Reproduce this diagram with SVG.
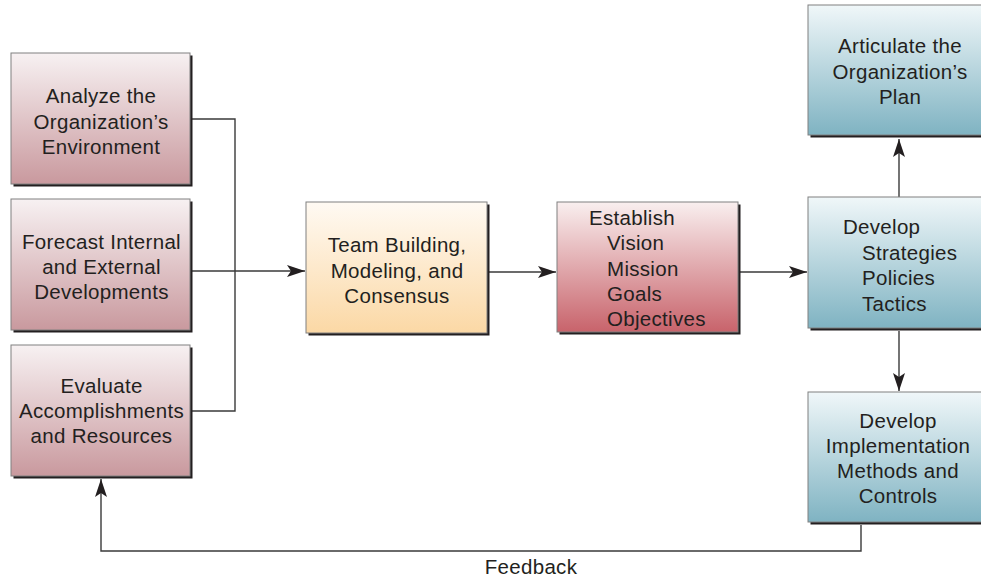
<svg xmlns="http://www.w3.org/2000/svg" width="981" height="580" viewBox="0 0 981 580">
<defs>
<linearGradient id="gPink" x1="0" y1="0" x2="0" y2="1"><stop offset="0" stop-color="#f7f1f2"/><stop offset="1" stop-color="#c9999e"/></linearGradient>
<linearGradient id="gTan" x1="0" y1="0" x2="0" y2="1"><stop offset="0" stop-color="#fffaf3"/><stop offset="1" stop-color="#fbd8a5"/></linearGradient>
<linearGradient id="gRed" x1="0" y1="0" x2="0" y2="1"><stop offset="0" stop-color="#f9efef"/><stop offset="1" stop-color="#c8636b"/></linearGradient>
<linearGradient id="gBlue" x1="0" y1="0" x2="0" y2="1"><stop offset="0" stop-color="#f0f7f9"/><stop offset="1" stop-color="#7fb3c2"/></linearGradient>
<marker id="arr" markerUnits="userSpaceOnUse" markerWidth="18" markerHeight="12" refX="18" refY="6" orient="auto" viewBox="0 0 18 12">
<path d="M0,0 L18,6 L0,12 L4,6 Z" fill="#231f20"/>
</marker>
</defs>
<style>
.sh{fill:#231f20}
.bx{stroke:#808080;stroke-width:1}
.t{font-family:"Liberation Sans",Arial,Helvetica,sans-serif;font-size:20.5px;fill:#231f20;letter-spacing:0.3px}
.c{text-anchor:middle}
.ln{fill:none;stroke:#3a3a3a;stroke-width:1.4}
</style>
<g id="connectors">
<path class="ln" d="M191 119 H235 V411 H191"/>
<path class="ln" d="M192 271 H305" marker-end="url(#arr)"/>
<path class="ln" d="M489 272 H556" marker-end="url(#arr)"/>
<path class="ln" d="M740 272 H807" marker-end="url(#arr)"/>
<path class="ln" d="M899 197 V139" marker-end="url(#arr)"/>
<path class="ln" d="M899 331 V391" marker-end="url(#arr)"/>
<path class="ln" d="M861 525 V551 H101 V479" marker-end="url(#arr)"/>
<text class="t c" x="531" y="574">Feedback</text>
</g>
<g id="analyze">
<rect class="sh" x="13.5" y="55.5" width="179" height="131"/>
<rect class="bx" x="11" y="53" width="179" height="131" fill="url(#gPink)"/>
<text class="t c" x="101" y="103">Analyze the</text>
<text class="t c" x="101" y="128.5">Organization’s</text>
<text class="t c" x="101" y="153.5">Environment</text>
</g>
<g id="forecast">
<rect class="sh" x="13.5" y="201.5" width="179" height="131"/>
<rect class="bx" x="11" y="199" width="179" height="131" fill="url(#gPink)"/>
<text class="t c" x="101.5" y="248.5">Forecast Internal</text>
<text class="t c" x="101.5" y="274">and External</text>
<text class="t c" x="101.5" y="299">Developments</text>
</g>
<g id="evaluate">
<rect class="sh" x="13.5" y="347.5" width="179" height="131"/>
<rect class="bx" x="11" y="345" width="179" height="131" fill="url(#gPink)"/>
<text class="t c" x="101.5" y="393">Evaluate</text>
<text class="t c" x="101.5" y="418">Accomplishments</text>
<text class="t c" x="101.5" y="443">and Resources</text>
</g>
<g id="team">
<rect class="sh" x="308.5" y="204.5" width="181" height="131"/>
<rect class="bx" x="306" y="202" width="181" height="131" fill="url(#gTan)"/>
<text class="t c" x="397" y="252">Team Building,</text>
<text class="t c" x="397" y="277.5">Modeling, and</text>
<text class="t c" x="397" y="302.5">Consensus</text>
</g>
<g id="establish">
<rect class="sh" x="559.5" y="204.5" width="181" height="130"/>
<rect class="bx" x="557" y="202" width="181" height="130" fill="url(#gRed)"/>
<text class="t" x="589" y="225">Establish</text>
<text class="t" x="607" y="250">Vision</text>
<text class="t" x="607" y="276">Mission</text>
<text class="t" x="607" y="301">Goals</text>
<text class="t" x="607" y="325.5">Objectives</text>
</g>
<g id="articulate">
<rect class="sh" x="810.5" y="7.5" width="190" height="130"/>
<rect class="bx" x="808" y="5" width="190" height="130" fill="url(#gBlue)"/>
<text class="t c" x="900" y="53">Articulate the</text>
<text class="t c" x="900" y="78.5">Organization’s</text>
<text class="t c" x="900" y="103.5">Plan</text>
</g>
<g id="develop">
<rect class="sh" x="810.5" y="199.5" width="190" height="131"/>
<rect class="bx" x="808" y="197" width="190" height="131" fill="url(#gBlue)"/>
<text class="t" x="843" y="234">Develop</text>
<text class="t" x="862" y="259.5">Strategies</text>
<text class="t" x="862" y="285">Policies</text>
<text class="t" x="862" y="310.5">Tactics</text>
</g>
<g id="implementation">
<rect class="sh" x="810.5" y="394.5" width="190" height="130"/>
<rect class="bx" x="808" y="392" width="190" height="130" fill="url(#gBlue)"/>
<text class="t c" x="898" y="428">Develop</text>
<text class="t c" x="898" y="453">Implementation</text>
<text class="t c" x="898" y="478">Methods and</text>
<text class="t c" x="898" y="503">Controls</text>
</g>
</svg>
